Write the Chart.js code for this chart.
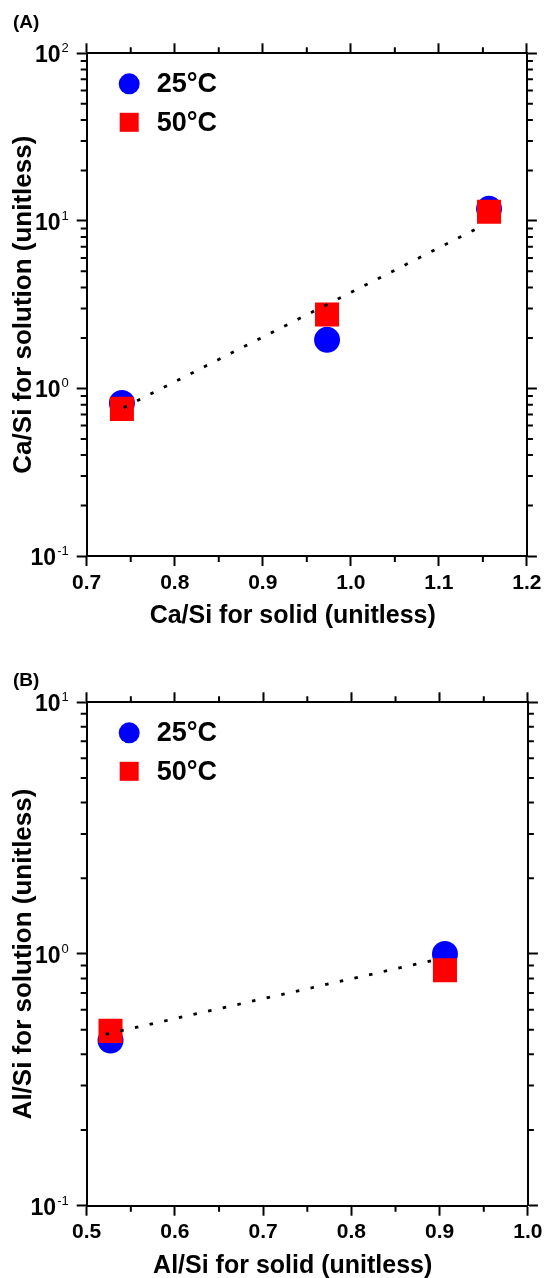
<!DOCTYPE html>
<html>
<head>
<meta charset="utf-8">
<script src="https://cdn.jsdelivr.net/npm/chart.js@4/dist/chart.umd.min.js"></script>
<style>
html, body { margin: 0; padding: 0; background: #fff; }
body { width: 546px; height: 1278px; position: relative; overflow: hidden; }
canvas { position: absolute; left: 0; }
#panelA { top: 0; }
#panelB { top: 640px; }
</style>
</head>
<body>
<canvas id="panelA" width="546" height="640"></canvas>
<canvas id="panelB" width="546" height="638"></canvas>
<script>
"use strict";

/********/
/* data */
/********/
const seriesLabels = ["25°C", "50°C"];

// panel A : Ca/Si
const solidA = [0.740, 0.973, 1.157];
const sol25A = [0.82, 1.95, 11.8];
const sol50A = [0.755, 2.76, 11.35];
const fitXA = [0.742, 1.145];
const fitYA = [0.768, 9.1];
const xTicksA = [0.7, 0.8, 0.9, 1.0, 1.1, 1.2];
const xLabelsA = ["0.7", "0.8", "0.9", "1.0", "1.1", "1.2"];
const yTicksA = [0.1, 1, 10, 100];
const yExpA = ["-1", "0", "1", "2"];

// panel B : Al/Si
const solidB = [0.527, 0.906];
const sol25B = [0.453, 1.0];
const sol50B = [0.495, 0.862];
const fitXB = [0.5215, 0.894];
const fitYB = [0.48, 0.946];
const xTicksB = [0.5, 0.6, 0.7, 0.8, 0.9, 1.0];
const xLabelsB = ["0.5", "0.6", "0.7", "0.8", "0.9", "1.0"];
const yTicksB = [0.1, 1, 10];
const yExpB = ["-1", "0", "1"];

/***********/
/* globals */
/***********/
const FONT = "'Liberation Sans', Arial, Helvetica, sans-serif";
const BLUE = "#0000ff";
const RED = "#ff0000";

/***********/
/* methods */
/***********/
function pts(xs, ys) {
	return xs.map((x, i) => ({ x: x, y: ys[i] }));
}

// draws minor ticks, y tick labels, legend, panel tag and x title
const panelDecor = {
	id: "panelDecor",
	afterDraw(chart, args, o) {
		const ctx = chart.ctx;
		const area = chart.chartArea;
		const sx = chart.scales.x;
		const sy = chart.scales.y;
		ctx.save();
		ctx.strokeStyle = "#000";
		ctx.lineWidth = 2;
		ctx.beginPath();
		// minor x ticks half way between the majors, on top and bottom
		for (let i = 0; i < o.xTicks.length - 1; i++) {
			const px = sx.getPixelForValue((o.xTicks[i] + o.xTicks[i + 1]) / 2);
			ctx.moveTo(px, area.bottom);
			ctx.lineTo(px, area.bottom + 6);
			ctx.moveTo(px, area.top);
			ctx.lineTo(px, area.top - 6);
		}
		// minor log ticks 2..9 in every decade, left and right
		for (let i = 0; i < o.yTicks.length - 1; i++) {
			for (let k = 2; k < 10; k++) {
				const py = sy.getPixelForValue(o.yTicks[i] * k);
				ctx.moveTo(area.left, py);
				ctx.lineTo(area.left - 6, py);
				ctx.moveTo(area.right, py);
				ctx.lineTo(area.right + 6, py);
			}
		}
		ctx.stroke();

		// y tick labels as 10 with a raised exponent
		ctx.fillStyle = "#000";
		ctx.textAlign = "right";
		ctx.textBaseline = "alphabetic";
		const rx = area.left - 18;
		o.yTicks.forEach((v, i) => {
			const py = sy.getPixelForValue(v);
			ctx.font = "13px " + FONT;
			const ew = ctx.measureText(o.yExp[i]).width;
			ctx.fillText(o.yExp[i], rx, py - 1);
			ctx.font = "bold 23px " + FONT;
			ctx.fillText("10", rx - ew - 1, py + 9);
		});

		// legend inside the plot, top left
		const lx = area.left + 42.5;
		const rows = [area.top + 30.5, area.top + 69];
		ctx.fillStyle = BLUE;
		ctx.beginPath();
		ctx.arc(lx, rows[0], 10.5, 0, Math.PI * 2);
		ctx.fill();
		ctx.fillStyle = RED;
		ctx.fillRect(lx - 9.5, rows[1] - 9.5, 19, 19);
		ctx.fillStyle = "#000";
		ctx.textAlign = "left";
		ctx.textBaseline = "middle";
		ctx.font = "bold 27px " + FONT;
		seriesLabels.forEach((label, i) => {
			ctx.fillText(label, area.left + 70, rows[i] + 1);
		});

		// panel tag
		ctx.font = "bold 19px " + FONT;
		ctx.fillText(o.tag, 13, o.tagY);

		// x axis title
		ctx.textAlign = "center";
		ctx.font = "bold 25px " + FONT;
		ctx.fillText(o.xTitle, area.left + 206, area.bottom + 60);
		ctx.restore();
	}
};

function frameAxis(position, type, min, max, ticks, size, extra) {
	const horizontal = position === "top" || position === "bottom";
	const axis = {
		type: type,
		position: position,
		min: min,
		max: max,
		afterBuildTicks: scale => {
			scale.ticks = ticks.map(v => ({ value: v }));
		},
		afterFit: scale => {
			if (horizontal) {
				scale.height = size;
			} else {
				scale.width = size;
			}
		},
		ticks: { display: false },
		grid: {
			drawOnChartArea: false,
			drawTicks: true,
			tickLength: 10,
			tickWidth: 2,
			tickColor: "#000"
		},
		border: { display: true, color: "#000", width: 2 }
	};
	return Object.assign(axis, extra || {});
}

function buildPanel(id, p) {
	const ctx = document.getElementById(id).getContext("2d");
	return new Chart(ctx, {
		type: "scatter",
		data: {
			datasets: [{
				label: "fit",
				data: pts(p.fitX, p.fitY),
				showLine: true,
				borderColor: "#000",
				borderWidth: 2.8,
				borderDash: [3.5, 11.5],
				pointRadius: 0,
				pointHoverRadius: 0,
				order: 0
			}, {
				label: seriesLabels[1],
				data: pts(p.solid, p.sol50),
				pointStyle: "rect",
				pointRadius: 17,
				pointHoverRadius: 17,
				pointBackgroundColor: RED,
				pointBorderWidth: 0,
				order: 1
			}, {
				label: seriesLabels[0],
				data: pts(p.solid, p.sol25),
				pointStyle: "circle",
				pointRadius: 13,
				pointHoverRadius: 13,
				pointBackgroundColor: BLUE,
				pointBorderWidth: 0,
				order: 2
			}]
		},
		options: {
			responsive: false,
			animation: false,
			devicePixelRatio: 1,
			layout: { padding: 0 },
			plugins: {
				legend: { display: false },
				tooltip: { enabled: false },
				panelDecor: {
					tag: p.tag,
					tagY: p.tagY,
					xTitle: p.xTitle,
					xTicks: p.xTicks,
					yTicks: p.yTicks,
					yExp: p.yExp
				}
			},
			scales: {
				x: frameAxis("bottom", "linear", p.xTicks[0], p.xTicks[p.xTicks.length - 1], p.xTicks, p.bottomH, {
					ticks: {
						display: true,
						autoSkip: false,
						maxRotation: 0,
						padding: p.xPad,
						color: "#000",
						font: { family: FONT, size: 21, weight: "bold" },
						callback: (v, i) => p.xLabels[i]
					}
				}),
				x2: frameAxis("top", "linear", p.xTicks[0], p.xTicks[p.xTicks.length - 1], p.xTicks, p.topH),
				y: frameAxis("left", "logarithmic", p.yTicks[0], p.yTicks[p.yTicks.length - 1], p.yTicks, 86.7, {
					title: {
						display: true,
						text: p.yTitle,
						color: "#000",
						font: { family: FONT, size: 26, weight: "bold" },
						padding: { top: 8, bottom: 0 }
					}
				}),
				y2: frameAxis("right", "logarithmic", p.yTicks[0], p.yTicks[p.yTicks.length - 1], p.yTicks, 17.7)
			}
		},
		plugins: [panelDecor]
	});
}

/********/
/* MAIN */
/********/
(function main() {
	buildPanel("panelA", {
		tag: "(A)", tagY: 22.5,
		xTitle: "Ca/Si for solid (unitless)",
		yTitle: "Ca/Si for solution (unitless)",
		solid: solidA, sol25: sol25A, sol50: sol50A,
		fitX: fitXA, fitY: fitYA,
		xTicks: xTicksA, xLabels: xLabelsA,
		yTicks: yTicksA, yExp: yExpA,
		topH: 53.3, bottomH: 84, xPad: 4.5
	});
	buildPanel("panelB", {
		tag: "(B)", tagY: 41,
		xTitle: "Al/Si for solid (unitless)",
		yTitle: "Al/Si for solution (unitless)",
		solid: solidB, sol25: sol25B, sol50: sol50B,
		fitX: fitXB, fitY: fitYB,
		xTicks: xTicksB, xLabels: xLabelsB,
		yTicks: yTicksB, yExp: yExpB,
		topH: 62.3, bottomH: 72.3, xPad: 3.5
	});
})();
</script>
</body>
</html>
